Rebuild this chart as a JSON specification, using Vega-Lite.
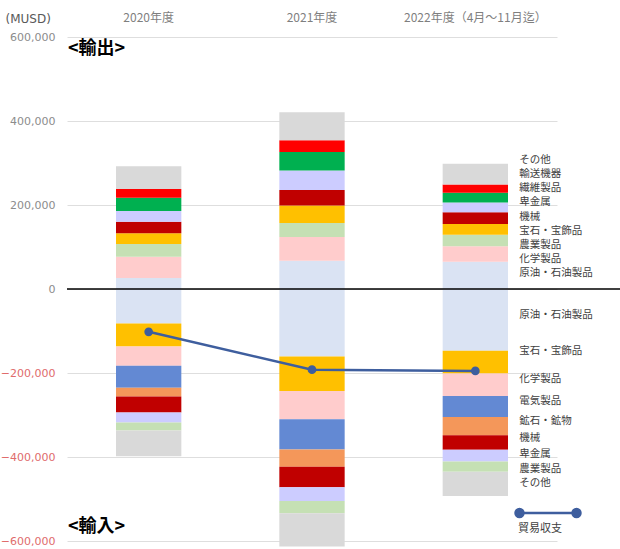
{
  "$schema": "https://vega.github.io/schema/vega-lite/v6.json",
  "width": 490,
  "height": 504,
  "autosize": {"type": "none"},
  "padding": {"left": 67, "top": 37, "right": 63, "bottom": 8},
  "background": "white",
  "config": {"view": {"stroke": null}, "font": "Noto Sans CJK JP"},
  "datasets": {
    "trade": [
      {"year": "2020年度", "type": "輸出", "item": "原油・石油製品", "seq": 1, "value": 26000},
      {"year": "2020年度", "type": "輸出", "item": "化学製品", "seq": 2, "value": 51000},
      {"year": "2020年度", "type": "輸出", "item": "農業製品", "seq": 3, "value": 30000},
      {"year": "2020年度", "type": "輸出", "item": "宝石・宝飾品", "seq": 4, "value": 26000},
      {"year": "2020年度", "type": "輸出", "item": "機械", "seq": 5, "value": 27000},
      {"year": "2020年度", "type": "輸出", "item": "卑金属", "seq": 6, "value": 26000},
      {"year": "2020年度", "type": "輸出", "item": "繊維製品", "seq": 7, "value": 31000},
      {"year": "2020年度", "type": "輸出", "item": "輸送機器", "seq": 8, "value": 21000},
      {"year": "2020年度", "type": "輸出", "item": "その他", "seq": 9, "value": 54000},
      {"year": "2021年度", "type": "輸出", "item": "原油・石油製品", "seq": 1, "value": 67000},
      {"year": "2021年度", "type": "輸出", "item": "化学製品", "seq": 2, "value": 57000},
      {"year": "2021年度", "type": "輸出", "item": "農業製品", "seq": 3, "value": 33000},
      {"year": "2021年度", "type": "輸出", "item": "宝石・宝飾品", "seq": 4, "value": 42000},
      {"year": "2021年度", "type": "輸出", "item": "機械", "seq": 5, "value": 37000},
      {"year": "2021年度", "type": "輸出", "item": "卑金属", "seq": 6, "value": 46000},
      {"year": "2021年度", "type": "輸出", "item": "繊維製品", "seq": 7, "value": 44000},
      {"year": "2021年度", "type": "輸出", "item": "輸送機器", "seq": 8, "value": 28000},
      {"year": "2021年度", "type": "輸出", "item": "その他", "seq": 9, "value": 67000},
      {"year": "2022年度（4月～11月迄）", "type": "輸出", "item": "原油・石油製品", "seq": 1, "value": 65000},
      {"year": "2022年度（4月～11月迄）", "type": "輸出", "item": "化学製品", "seq": 2, "value": 37000},
      {"year": "2022年度（4月～11月迄）", "type": "輸出", "item": "農業製品", "seq": 3, "value": 27000},
      {"year": "2022年度（4月～11月迄）", "type": "輸出", "item": "宝石・宝飾品", "seq": 4, "value": 26000},
      {"year": "2022年度（4月～11月迄）", "type": "輸出", "item": "機械", "seq": 5, "value": 28000},
      {"year": "2022年度（4月～11月迄）", "type": "輸出", "item": "卑金属", "seq": 6, "value": 23000},
      {"year": "2022年度（4月～11月迄）", "type": "輸出", "item": "繊維製品", "seq": 7, "value": 23000},
      {"year": "2022年度（4月～11月迄）", "type": "輸出", "item": "輸送機器", "seq": 8, "value": 20000},
      {"year": "2022年度（4月～11月迄）", "type": "輸出", "item": "その他", "seq": 9, "value": 49000},
      {"year": "2020年度", "type": "輸入", "item": "原油・石油製品", "seq": 1, "value": -82000},
      {"year": "2020年度", "type": "輸入", "item": "宝石・宝飾品", "seq": 2, "value": -55000},
      {"year": "2020年度", "type": "輸入", "item": "化学製品", "seq": 3, "value": -46000},
      {"year": "2020年度", "type": "輸入", "item": "電気製品", "seq": 4, "value": -52000},
      {"year": "2020年度", "type": "輸入", "item": "鉱石・鉱物", "seq": 5, "value": -21000},
      {"year": "2020年度", "type": "輸入", "item": "機械", "seq": 6, "value": -38000},
      {"year": "2020年度", "type": "輸入", "item": "卑金属", "seq": 7, "value": -24000},
      {"year": "2020年度", "type": "輸入", "item": "農業製品", "seq": 8, "value": -19000},
      {"year": "2020年度", "type": "輸入", "item": "その他", "seq": 9, "value": -61000},
      {"year": "2021年度", "type": "輸入", "item": "原油・石油製品", "seq": 1, "value": -161000},
      {"year": "2021年度", "type": "輸入", "item": "宝石・宝飾品", "seq": 2, "value": -82000},
      {"year": "2021年度", "type": "輸入", "item": "化学製品", "seq": 3, "value": -67000},
      {"year": "2021年度", "type": "輸入", "item": "電気製品", "seq": 4, "value": -72000},
      {"year": "2021年度", "type": "輸入", "item": "鉱石・鉱物", "seq": 5, "value": -41000},
      {"year": "2021年度", "type": "輸入", "item": "機械", "seq": 6, "value": -49000},
      {"year": "2021年度", "type": "輸入", "item": "卑金属", "seq": 7, "value": -33000},
      {"year": "2021年度", "type": "輸入", "item": "農業製品", "seq": 8, "value": -29000},
      {"year": "2021年度", "type": "輸入", "item": "その他", "seq": 9, "value": -79000},
      {"year": "2022年度（4月～11月迄）", "type": "輸入", "item": "原油・石油製品", "seq": 1, "value": -147000},
      {"year": "2022年度（4月～11月迄）", "type": "輸入", "item": "宝石・宝飾品", "seq": 2, "value": -54000},
      {"year": "2022年度（4月～11月迄）", "type": "輸入", "item": "化学製品", "seq": 3, "value": -54000},
      {"year": "2022年度（4月～11月迄）", "type": "輸入", "item": "電気製品", "seq": 4, "value": -50000},
      {"year": "2022年度（4月～11月迄）", "type": "輸入", "item": "鉱石・鉱物", "seq": 5, "value": -43000},
      {"year": "2022年度（4月～11月迄）", "type": "輸入", "item": "機械", "seq": 6, "value": -35000},
      {"year": "2022年度（4月～11月迄）", "type": "輸入", "item": "卑金属", "seq": 7, "value": -28000},
      {"year": "2022年度（4月～11月迄）", "type": "輸入", "item": "農業製品", "seq": 8, "value": -24000},
      {"year": "2022年度（4月～11月迄）", "type": "輸入", "item": "その他", "seq": 9, "value": -58000}
    ],
    "balance": [
      {"year": "2020年度", "balance": -102000},
      {"year": "2021年度", "balance": -192000},
      {"year": "2022年度（4月～11月迄）", "balance": -195000}
    ]
  },
  "resolve": {"scale": {"x": "independent", "y": "independent"}},
  "layer": [
    {
      "resolve": {"scale": {"x": "independent"}},
      "layer": [
        {
          "data": {"name": "trade"},
          "mark": {"type": "bar", "clip": false},
          "encoding": {
            "x": {
              "field": "year", "type": "nominal", "sort": null,
              "scale": {"domain": ["2020年度", "2021年度", "2022年度（4月～11月迄）"], "paddingInner": 0.6, "paddingOuter": 0.3},
              "axis": {"orient": "top", "title": null, "domain": false, "ticks": false, "grid": false, "labelAngle": 0, "labelPadding": 13, "labelColor": "#7F7F7F", "labelFontSize": 12, "labelFont": "Noto Sans CJK JP"}
            },
            "y": {
              "field": "value", "type": "quantitative", "stack": "zero",
              "scale": {"domain": [-600000, 600000], "nice": false},
              "axis": {
                "title": "(MUSD)", "titleAngle": 0, "titleAlign": "left", "titleBaseline": "alphabetic",
                "titleX": -62, "titleY": -15, "titleFontWeight": "normal", "titleColor": "#595959", "titleFontSize": 12, "titleFont": "DejaVu Sans",
                "values": [-600000, -400000, -200000, 0, 200000, 400000, 600000],
                "format": ",.0f", "domain": false, "ticks": false, "labelPadding": 12,
                "labelFontSize": 11, "labelFont": "DejaVu Sans",
                "labelColor": {"condition": {"test": "datum.value < 0", "value": "#E06C6C"}, "value": "#8C8C8C"},
                "gridColor": "#DEDEDE", "gridWidth": 1
              }
            },
            "color": {
              "field": "item", "type": "nominal",
              "scale": {
                "domain": ["原油・石油製品", "化学製品", "農業製品", "宝石・宝飾品", "機械", "卑金属", "繊維製品", "輸送機器", "その他", "電気製品", "鉱石・鉱物"],
                "range": ["#DAE3F3", "#FFCCCC", "#C5E0B4", "#FFC000", "#C00000", "#CCCCFF", "#00B050", "#FF0000", "#D9D9D9", "#6389D3", "#F4975A"]
              },
              "legend": null
            },
            "order": {"field": "seq", "type": "quantitative", "sort": "ascending"}
          }
        },
        {
          "data": {"values": [{}]},
          "mark": {"type": "rule", "clip": false, "color": "#000000", "strokeWidth": 1.3},
          "encoding": {
            "y": {"datum": 0, "type": "quantitative"},
            "x": {"datum": 0, "type": "quantitative", "scale": {"domain": [0, 1]}, "axis": null},
            "x2": {"datum": 1.13}
          }
        },
        {
          "data": {"name": "balance"},
          "mark": {"type": "line", "strokeWidth": 2.5, "point": {"filled": true, "size": 45, "color": "#3E5E9E"}},
          "encoding": {
            "x": {
              "field": "year", "type": "nominal", "sort": null,
              "scale": {"domain": ["2020年度", "2021年度", "2022年度（4月～11月迄）"], "paddingInner": 0.6, "paddingOuter": 0.3},
              "axis": null
            },
            "y": {"field": "balance", "type": "quantitative"},
            "stroke": {
              "datum": "貿易収支",
              "scale": {"range": ["#3E5E9E"]},
              "legend": {
                "orient": "none", "legendX": 451, "legendY": 446,
                "title": "貿易収支", "titleOrient": "bottom", "titleAnchor": "start",
                "titleFontSize": 11, "titleFontWeight": "normal", "titleColor": "#404040", "titlePadding": 1,
                "labelExpr": "''", "labelOffset": 0,
                "symbolType": "M-1,0L1,0M-0.86,0A0.14,0.14,0,1,1,-1.14,0A0.14,0.14,0,1,1,-0.86,0M1.14,0A0.14,0.14,0,1,1,0.86,0A0.14,0.14,0,1,1,1.14,0",
                "symbolSize": 3249, "symbolStrokeWidth": 2.5,
                "symbolFillColor": "#3E5E9E", "symbolStrokeColor": "#3E5E9E",
                "encode": {"symbols": {"update": {"fill": {"value": "#3E5E9E"}, "stroke": {"value": "#3E5E9E"}}}}
              }
            }
          }
        },
        {
          "data": {"values": [{}]},
          "mark": {"type": "text", "align": "left", "baseline": "middle", "dx": 1, "fontSize": 18, "fontWeight": "bold", "color": "#000000", "font": "Noto Sans CJK JP"},
          "encoding": {
            "x": {"datum": 0, "type": "quantitative", "scale": {"domain": [0, 1]}, "axis": null},
            "y": {"datum": 571000, "type": "quantitative"},
            "text": {"value": "<輸出>"}
          }
        },
        {
          "data": {"values": [{}]},
          "mark": {"type": "text", "align": "left", "baseline": "middle", "dx": 1, "fontSize": 18, "fontWeight": "bold", "color": "#000000", "font": "Noto Sans CJK JP"},
          "encoding": {
            "x": {"datum": 0, "type": "quantitative", "scale": {"domain": [0, 1]}, "axis": null},
            "y": {"datum": -567000, "type": "quantitative"},
            "text": {"value": "<輸入>"}
          }
        }
      ]
    },
    {
      "data": {"name": "trade"},
      "transform": [
        {"filter": "datum.year === '2022年度（4月～11月迄）' && datum.type === '輸出'"}
      ],
      "mark": {"type": "text", "align": "left", "baseline": "middle", "dx": 44, "fontSize": 10.5, "color": "#404040", "font": "Noto Sans CJK JP"},
      "encoding": {
        "x": {
          "field": "year", "type": "nominal",
          "scale": {"domain": ["2020年度", "2021年度", "2022年度（4月～11月迄）"], "paddingInner": 0.6, "paddingOuter": 0.3},
          "axis": null
        },
        "y": {"field": "seq", "type": "quantitative", "scale": {"domain": [-17.97, 17.71], "nice": false, "zero": false}, "axis": null},
        "text": {"field": "item"}
      }
    },
    {
      "data": {"name": "trade"},
      "transform": [
        {"filter": "datum.year === '2022年度（4月～11月迄）' && datum.type === '輸入'"}
      ],
      "mark": {"type": "text", "align": "left", "baseline": "middle", "dx": 44, "fontSize": 10.5, "color": "#404040", "font": "Noto Sans CJK JP"},
      "encoding": {
        "x": {
          "field": "year", "type": "nominal",
          "scale": {"domain": ["2020年度", "2021年度", "2022年度（4月～11月迄）"], "paddingInner": 0.6, "paddingOuter": 0.3},
          "axis": null
        },
        "y": {"field": "seq", "type": "quantitative", "scale": {"type": "pow", "exponent": 0.45, "domain": [-3.666, 13.92], "reverse": true, "nice": false, "zero": false}, "axis": null},
        "text": {"field": "item"}
      }
    }
  ]
}
